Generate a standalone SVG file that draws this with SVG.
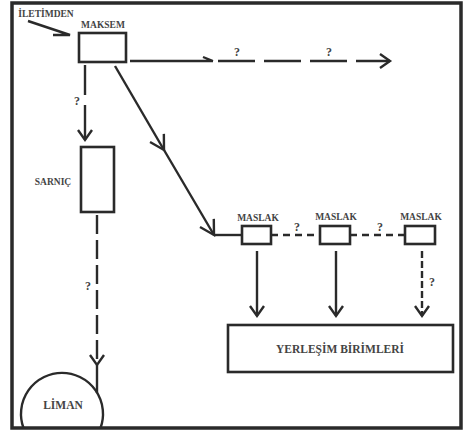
<svg xmlns="http://www.w3.org/2000/svg" width="464" height="435" viewBox="0 0 464 435">
<style>
.ln{fill:none;stroke:#2a2a2a;stroke-width:2.4;stroke-linecap:butt;stroke-linejoin:miter}
.bx{fill:#fff;stroke:#2a2a2a;stroke-width:2.6}
.t{font-family:"Liberation Serif","Times New Roman",serif;font-weight:bold;fill:#444;text-anchor:middle}
.s9{font-size:9.5px}
.s11{font-size:11.5px}
.q{font-size:12px}
</style>
<defs>
<marker id="big" markerUnits="userSpaceOnUse" markerWidth="30" markerHeight="30" viewBox="-20 -15 30 30" refX="0" refY="0" orient="auto">
<path d="M-14,-8 L0,0 L-14,8" fill="none" stroke="#2a2a2a" stroke-width="2.4"/>
</marker>
<marker id="sm" markerUnits="userSpaceOnUse" markerWidth="30" markerHeight="30" viewBox="-20 -15 30 30" refX="0" refY="0" orient="auto">
<path d="M-10,-7 L0,0 L-10,7" fill="none" stroke="#2a2a2a" stroke-width="2.4"/>
</marker>
</defs>
<rect x="0" y="0" width="464" height="435" fill="#fff"/>
<rect x="12" y="3" width="449" height="425" fill="none" stroke="#2a2a2a" stroke-width="3.5"/>

<g id="connectors">
<path class="ln" d="M28,21 L70,35 L53,35"/>
<path class="ln" d="M130,61 L213,61 M213,61 L203,57"/>
<path class="ln" d="M218,61 L390,61" stroke-dasharray="37 9" marker-end="url(#sm)"/>
<path class="ln" d="M85,65 L85,95"/>
<path class="ln" d="M85,105 L85,140" marker-end="url(#sm)"/>
<path class="ln" d="M115,66 L164,150" marker-end="url(#big)"/>
<path class="ln" d="M164,150 L214,235" marker-end="url(#big)"/>
<path class="ln" d="M214,235 L242,235"/>
<path class="ln" d="M97,215 L97,365" stroke-dasharray="19 6" marker-end="url(#sm)"/>
<path class="ln" d="M97,365 L97,393"/>
<path class="ln" d="M271,235 L320,235" stroke-dasharray="7 5"/>
<path class="ln" d="M350,235 L405,235" stroke-dasharray="7 5"/>
<path class="ln" d="M257,251 L257,316" marker-end="url(#sm)"/>
<path class="ln" d="M336,251 L336,316" marker-end="url(#sm)"/>
<path class="ln" d="M422,251 L422,316" stroke-dasharray="7 3" marker-end="url(#sm)"/>
<text class="t q" x="237" y="56">?</text>
<text class="t q" x="329" y="56">?</text>
<text class="t q" x="77" y="105">?</text>
<text class="t q" x="88" y="290">?</text>
<text class="t q" x="297" y="231">?</text>
<text class="t q" x="380" y="231">?</text>
<text class="t q" x="432" y="286">?</text>
</g>

<g id="iletimden">
<text class="t s9" x="46" y="17">İLETİMDEN</text>
</g>
<g id="maksem">
<text class="t s9" x="103" y="28">MAKSEM</text>
<rect class="bx" x="79" y="33" width="47" height="29"/>
</g>
<g id="sarnic">
<text class="t s9" x="53" y="185">SARNIÇ</text>
<rect class="bx" x="81" y="147" width="33" height="65"/>
</g>
<g id="liman">
<path class="ln" d="M23.5,428 A41,41 0 1 1 100.5,428"/>
<text class="t s11" x="63" y="409">LİMAN</text>
</g>
<g id="maslak1">
<text class="t s9" x="258" y="221">MASLAK</text>
<rect class="bx" x="242" y="226" width="29" height="18"/>
</g>
<g id="maslak2">
<text class="t s9" x="336" y="220">MASLAK</text>
<rect class="bx" x="320" y="226" width="30" height="18"/>
</g>
<g id="maslak3">
<text class="t s9" x="421" y="220">MASLAK</text>
<rect class="bx" x="405" y="226" width="30" height="18"/>
</g>
<g id="yerlesim">
<rect class="bx" x="228" y="325" width="225" height="47"/>
<text class="t s11" x="340" y="353">YERLEŞİM BİRİMLERİ</text>
</g>
</svg>
